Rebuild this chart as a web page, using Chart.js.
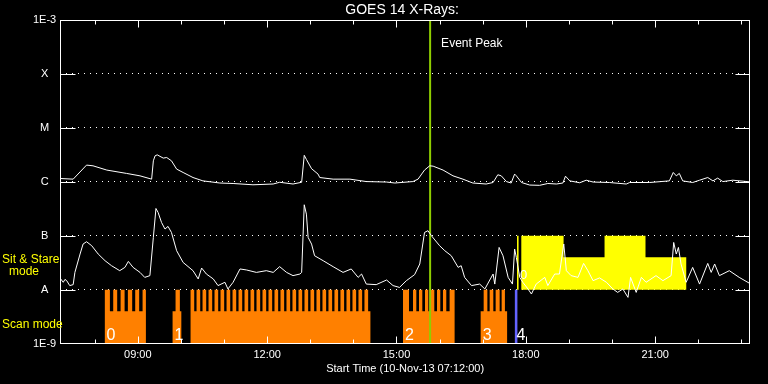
<!DOCTYPE html>
<html>
<head>
<meta charset="utf-8">
<title>GOES 14 X-Rays</title>
<script src="https://cdn.jsdelivr.net/npm/chart.js@4.4.0/dist/chart.umd.min.js"></script>
<style>
  html, body { margin: 0; padding: 0; background: #000; }
  canvas { display: block; }
</style>
</head>
<body>
<canvas id="goesChart" width="768" height="384"></canvas>
<script>
// time is hours of 10-Nov-13, flux in W/m^2

// long channel (upper curve)
const longTime = [7.21, 7.50, 7.81, 7.96, 8.28, 8.74, 9.05, 9.32, 9.36, 9.40, 9.45, 9.59, 9.67, 9.78, 9.90, 10.05,
  10.28, 10.51, 10.90, 11.21, 11.67, 12.14, 12.29, 12.60, 12.80, 12.86, 12.91, 13.03, 13.18, 13.22, 13.53, 13.92,
  14.30, 14.77, 14.96, 15.38, 15.50, 15.65, 15.77, 15.85, 16.08, 16.31, 16.54, 16.77, 17.08, 17.24, 17.35, 17.43,
  17.55, 17.66, 17.74, 17.78, 17.90, 18.09, 18.32, 18.51, 18.71, 18.86, 18.92, 19.02, 19.25, 19.40, 19.56, 19.94,
  20.33, 20.41, 20.87, 21.33, 21.42, 21.49, 21.56, 21.64, 21.87, 22.03, 22.22, 22.34, 22.45, 22.57, 22.80, 23.19];
const longFlux = [1.15e-6, 1.12e-6, 2.04e-6, 1.98e-6, 1.65e-6, 1.43e-6, 1.29e-6, 1.12e-6, 2.45e-6, 3.03e-6, 3.16e-6, 2.75e-6, 2.82e-6, 2.45e-6, 1.72e-6, 1.49e-6,
  1.20e-6, 1.04e-6, 0.95e-6, 0.93e-6, 0.88e-6, 0.91e-6, 0.98e-6, 0.91e-6, 0.98e-6, 3.1e-6, 2.6e-6, 1.75e-6, 1.39e-6, 1.2e-6, 1.12e-6, 1.12e-6,
  1.01e-6, 0.99e-6, 0.95e-6, 1.01e-6, 1.12e-6, 1.65e-6, 1.98e-6, 1.95e-6, 1.65e-6, 1.29e-6, 1.12e-6, 0.95e-6, 0.91e-6, 0.97e-6, 1.35e-6, 1.29e-6,
  1.01e-6, 0.95e-6, 1.39e-6, 1.29e-6, 0.97e-6, 0.87e-6, 0.86e-6, 0.93e-6, 0.91e-6, 0.95e-6, 1.27e-6, 1.04e-6, 0.96e-6, 1.07e-6, 0.99e-6, 0.97e-6,
  0.91e-6, 0.97e-6, 0.97e-6, 1.04e-6, 1.49e-6, 1.29e-6, 1.43e-6, 1.04e-6, 0.97e-6, 1.07e-6, 1.20e-6, 1.04e-6, 1.17e-6, 1.01e-6, 1.07e-6, 1.0e-6];

// short channel (lower curve)
const shortTime = [7.21, 7.27, 7.31, 7.35, 7.42, 7.50, 7.54, 7.66, 7.73, 7.81, 7.93, 8.08, 8.24, 8.39, 8.58, 8.70,
  8.78, 8.89, 9.05, 9.16, 9.28, 9.36, 9.42, 9.47, 9.55, 9.63, 9.70, 9.78, 9.90, 10.05, 10.28, 10.40,
  10.48, 10.59, 10.75, 10.86, 11.02, 11.09, 11.21, 11.37, 11.52, 11.75, 11.98, 12.14, 12.29, 12.45, 12.60, 12.76,
  12.80, 12.86, 12.91, 12.95, 13.03, 13.10, 13.30, 13.53, 13.76, 13.95, 14.11, 14.19, 14.30, 14.53, 14.77, 14.92,
  15.07, 15.23, 15.42, 15.54, 15.65, 15.73, 15.81, 16.00, 16.12, 16.27, 16.43, 16.50, 16.58, 16.74, 16.93, 17.05,
  17.24, 17.28, 17.38, 17.47, 17.59, 17.69, 17.74, 17.78, 17.86, 17.93, 18.05, 18.13, 18.24, 18.44, 18.51, 18.67,
  18.78, 18.88, 18.94, 19.05, 19.21, 19.34, 19.44, 19.56, 19.71, 19.87, 20.02, 20.13, 20.25, 20.37, 20.43, 20.56,
  20.68, 20.79, 21.02, 21.18, 21.37, 21.43, 21.49, 21.54, 21.60, 21.72, 21.87, 22.03, 22.22, 22.30, 22.38, 22.49,
  22.72, 22.95, 23.19];
const shortFlux = [1.58e-8, 1.37e-8, 1.55e-8, 1.47e-8, 1.19e-8, 1.24e-8, 2.09e-8, 4.58e-8, 7.02e-8, 7.74e-8, 6.53e-8, 4.58e-8, 3.44e-8, 2.78e-8, 2.25e-8, 2.59e-8,
  3.34e-8, 2.59e-8, 2.09e-8, 1.69e-8, 1.82e-8, 9.3e-8, 3.2e-7, 2.7e-7, 1.76e-7, 1.33e-7, 1.49e-7, 1.15e-7, 5.28e-8, 3.2e-8, 2.25e-8, 1.58e-8,
  2.52e-8, 1.95e-8, 1.58e-8, 1.19e-8, 1.37e-8, 1.03e-8, 1.37e-8, 2.42e-8, 2.32e-8, 2.09e-8, 2.25e-8, 2.09e-8, 2.67e-8, 2.09e-8, 1.82e-8, 1.95e-8,
  2.09e-8, 3.75e-7, 2.52e-7, 9.3e-8, 7.0e-8, 4.26e-8, 3.44e-8, 2.67e-8, 2.09e-8, 2.42e-8, 1.69e-8, 1.95e-8, 1.27e-8, 1.24e-8, 1.51e-8, 1.19e-8,
  1.10e-8, 1.47e-8, 1.90e-8, 2.99e-8, 1.15e-7, 1.24e-7, 1.0e-7, 6.53e-8, 5.28e-8, 4.26e-8, 2.59e-8, 2.78e-8, 1.69e-8, 1.19e-8, 1.27e-8, 1.03e-8,
  1.95e-8, 1.27e-8, 6.07e-8, 4.26e-8, 1.69e-8, 1.27e-8, 5.67e-8, 3.96e-8, 1.69e-8, 1.37e-8, 1.03e-8, 0.83e-8, 1.27e-8, 1.69e-8, 1.19e-8, 1.95e-8,
  1.95e-8, 7.02e-8, 2.25e-8, 1.82e-8, 1.69e-8, 3.07e-8, 2.25e-8, 1.47e-8, 1.65e-8, 1.37e-8, 1.03e-8, 0.89e-8, 1.03e-8, 0.72e-8, 1.69e-8, 0.89e-8,
  1.69e-8, 1.37e-8, 1.82e-8, 1.47e-8, 1.82e-8, 7.51e-8, 4.58e-8, 6.07e-8, 2.99e-8, 1.37e-8, 2.59e-8, 1.27e-8, 3.07e-8, 2.09e-8, 2.99e-8, 1.82e-8,
  2.25e-8, 1.69e-8, 1.31e-8];

// axis levels
const levelValues = [1e-9, 1e-8, 1e-7, 1e-6, 1e-5, 1e-4, 1e-3];
const levelLabels = ["1E-9", "A", "B", "C", "M", "X", "1E-3"];
const hourTicks = [8, 9, 10, 11, 12, 13, 14, 15, 16, 17, 18, 19, 20, 21, 22, 23];
const hourLabels = [9, 12, 15, 18, 21];

const eventPeak = 15.78;

// scan mode blocks and their teeth
const scanStart = [8.229, 9.806, 10.223, 15.151, 16.952];
const scanEnd = [9.187, 10.009, 14.395, 16.348, 17.571];
const toothStart = [8.229, 8.429, 8.600, 8.769, 8.939, 9.110,
  9.875,
  10.223, 10.362, 10.501, 10.640, 10.779, 10.918, 11.058, 11.197, 11.336, 11.475, 11.614, 11.753, 11.892, 12.031, 12.170,
  12.309, 12.448, 12.587, 12.727, 12.866, 13.005, 13.144, 13.283, 13.422, 13.561, 13.700, 13.840, 13.979, 14.118, 14.257,
  15.151, 15.383, 15.522, 15.661, 15.800, 15.939, 16.078, 16.232,
  17.022, 17.161, 17.300, 17.439];
const toothEnd = [8.352, 8.521, 8.693, 8.869, 9.031, 9.187,
  9.975,
  10.308, 10.447, 10.586, 10.725, 10.864, 11.003, 11.143, 11.282, 11.421, 11.560, 11.699, 11.838, 11.977, 12.116, 12.255,
  12.394, 12.533, 12.672, 12.812, 12.951, 13.090, 13.229, 13.368, 13.507, 13.646, 13.785, 13.925, 14.064, 14.203, 14.342,
  15.290, 15.460, 15.599, 15.738, 15.877, 16.016, 16.155, 16.348,
  17.108, 17.246, 17.393, 17.515];
const scanTop = 1e-8;
const scanBase = 4e-9;
const blueStart = 17.74;
const blueEnd = 17.81;
const segLabelTime = [8.229, 9.806, 15.151, 16.952, 17.74];
const segLabelText = ["0", "1", "2", "3", "4"];

// sit & stare blocks
const stareStart = [17.795, 17.895, 18.876, 19.826, 20.776];
const stareEnd = [17.832, 18.876, 19.826, 20.776, 21.727];
const stareLevel = [1e-7, 1e-7, 4e-8, 1e-7, 4e-8];

const toPoints = (xs, ys) => xs.map((t, i) => ({ x: t, y: ys[i] }));

const buildScan = () => {
  const pts = [];
  scanStart.forEach((s, i) => {
    pts.push({ x: s, y: scanBase });
    toothStart.forEach((t, j) => {
      if (t >= s && t < scanEnd[i]) {
        pts.push({ x: t, y: scanTop });
        pts.push({ x: toothEnd[j], y: scanBase });
      }
    });
    pts.push({ x: scanEnd[i], y: 1e-9 });
  });
  return pts;
};

const buildStare = () => {
  const pts = [];
  stareStart.forEach((s, i) => {
    pts.push({ x: s, y: stareLevel[i] });
    if (stareEnd[i] !== stareStart[i + 1]) pts.push({ x: stareEnd[i], y: 1e-8 });
  });
  return pts;
};

const FONT = "'Liberation Sans', sans-serif";

const goesDecor = {
  id: "goesDecor",
  afterDraw(chart) {
    const { ctx, chartArea: a, scales: { x, y } } = chart;
    const L = Math.round(a.left) + 0.5, R = Math.round(a.right) - 0.5;
    const T = Math.round(a.top) + 0.5, B = Math.round(a.bottom) - 0.5;
    const line = (x1, y1, x2, y2) => { ctx.beginPath(); ctx.moveTo(x1, y1); ctx.lineTo(x2, y2); ctx.stroke(); };
    ctx.save();
    ctx.strokeStyle = "#fff";
    ctx.lineWidth = 1;
    ctx.strokeRect(L, T, R - L, B - T);
    hourTicks.forEach((h) => {
      const px = Math.round(x.getPixelForValue(h)) + 0.5;
      const len = hourLabels.includes(h) ? 7 : 4;
      line(px, B, px, B - len);
      line(px, T, px, T + len);
    });
    levelValues.slice(1, -1).forEach((v) => {
      const py = Math.round(y.getPixelForValue(v)) + 0.5;
      line(L, py, L + 15, py);
      line(R - 14, py, R, py);
    });

    ctx.fillStyle = "#fff";
    ctx.textBaseline = "middle";
    ctx.textAlign = "center";
    ctx.font = "14px " + FONT;
    ctx.fillText("GOES 14 X-Rays:", (a.left + a.right) / 2 - 3, 10);

    ctx.textAlign = "left";
    ctx.font = "12px " + FONT;
    ctx.fillText("Event Peak", x.getPixelForValue(eventPeak) + 11, a.top + 24);

    // mode labels
    const yA = y.getPixelForValue(1e-8);
    ctx.fillStyle = "#ffff00";
    ctx.fillText("Sit & Stare", 2, yA - 30);
    ctx.textAlign = "center";
    ctx.fillText("mode", 24, yA - 18);
    ctx.textAlign = "left";
    ctx.fillText("Scan mode", 2, yA + 35);

    // block numbers
    ctx.fillStyle = "#fff";
    ctx.textBaseline = "alphabetic";
    ctx.font = "16px " + FONT;
    segLabelTime.forEach((t, i) => {
      ctx.fillText(segLabelText[i], x.getPixelForValue(t) + 2, a.bottom - 4);
    });
    ctx.font = "13px " + FONT;
    ctx.fillText("0", x.getPixelForValue(stareStart[0]) + 3, yA - 11);
    ctx.restore();
  }
};

Chart.defaults.font.family = FONT;
Chart.defaults.color = "#fff";

new Chart(document.getElementById("goesChart"), {
  type: "line",
  data: {
    datasets: [
      { label: "1.0-8.0 A", data: toPoints(longTime, longFlux), borderColor: "#fff", borderWidth: 1, pointRadius: 0, order: 0 },
      { label: "0.5-4.0 A", data: toPoints(shortTime, shortFlux), borderColor: "#fff", borderWidth: 1, pointRadius: 0, order: 0 },
      { label: "Event Peak", data: [{ x: eventPeak, y: 1e-9 }, { x: eventPeak, y: 1e-3 }], borderColor: "#8fce00", borderWidth: 2, pointRadius: 0, order: 1 },
      { label: "Scan 4", data: [{ x: blueStart, y: 1e-8 }, { x: blueEnd, y: 1e-9 }], stepped: true, borderWidth: 0, borderColor: "transparent", backgroundColor: "#6464ff", fill: "start", pointRadius: 0, order: 2 },
      { label: "Sit & Stare", data: buildStare(), stepped: true, borderWidth: 0, borderColor: "transparent", backgroundColor: "#ffff00", fill: { value: 1e-8 }, pointRadius: 0, order: 3 },
      { label: "Scan", data: buildScan(), stepped: true, borderWidth: 0, borderColor: "transparent", backgroundColor: "#ff8000", fill: "start", pointRadius: 0, order: 3 }
    ]
  },
  options: {
    responsive: false,
    animation: false,
    devicePixelRatio: 1,
    layout: { padding: { top: 20, left: 29, right: 18, bottom: 8 } },
    plugins: { legend: { display: false }, tooltip: { enabled: false }, title: { display: false } },
    scales: {
      x: {
        type: "linear",
        min: 7.2,
        max: 23.2,
        afterBuildTicks: (scale) => { scale.ticks = hourTicks.map((v) => ({ value: v })); },
        ticks: {
          autoSkip: false,
          maxRotation: 0,
          padding: 5,
          color: "#fff",
          font: { size: 11 },
          callback: (v) => (hourLabels.includes(v) ? String(v).padStart(2, "0") + ":00" : "")
        },
        grid: { display: false, drawTicks: false },
        border: { display: false },
        title: { display: true, text: "Start Time (10-Nov-13 07:12:00)", color: "#fff", font: { size: 11 }, padding: { top: -4, bottom: 0 } }
      },
      y: {
        type: "logarithmic",
        min: 1e-9,
        max: 1e-3,
        z: 1,
        afterBuildTicks: (scale) => { scale.ticks = levelValues.map((v) => ({ value: v })); },
        ticks: {
          padding: 4,
          crossAlign: "center",
          color: "#fff",
          font: { size: 11 },
          callback: (v) => { const i = levelValues.indexOf(v); return i >= 0 ? levelLabels[i] : ""; }
        },
        grid: {
          drawTicks: false,
          lineWidth: 1,
          color: (c) => (c.tick && c.tick.value > 1e-9 && c.tick.value < 1e-3 ? "#fff" : "transparent")
        },
        border: { display: false, dash: [1, 5] }
      }
    }
  },
  plugins: [goesDecor]
});
</script>
</body>
</html>
